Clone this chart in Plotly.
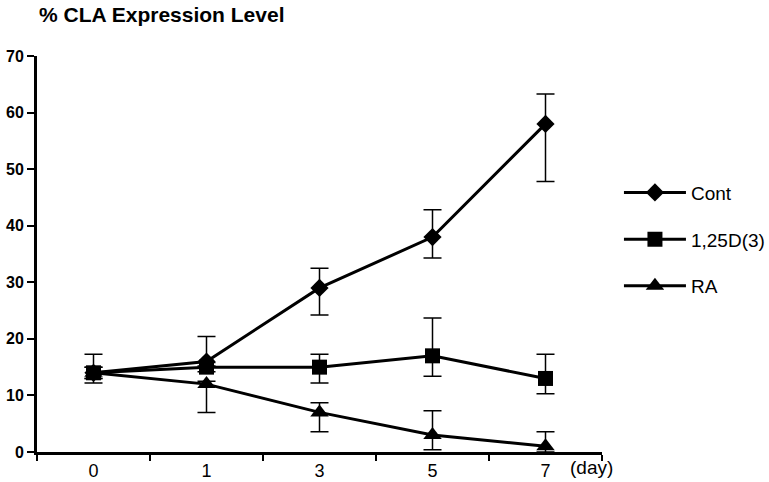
import plotly.graph_objects as go

days = ["0", "1", "3", "5", "7"]
pos = [0, 1, 2, 3, 4]

cont = [14, 16, 29, 38, 58]
cont_up = [3.3, 4.4, 3.5, 4.8, 5.3]
cont_dn = [1.8, 0.8, 4.8, 3.7, 10.2]

d3 = [14, 15, 15, 17, 13]
d3_up = [1.0, 0.8, 2.3, 6.7, 4.3]
d3_dn = [1.0, 0.8, 2.8, 3.6, 2.7]

ra = [14, 12, 7, 3, 1]
ra_up = [1.0, 0.5, 1.7, 4.3, 2.6]
ra_dn = [1.0, 5.0, 3.4, 2.6, 1.0]

yticks = [0, 10, 20, 30, 40, 50, 60, 70]

fig = go.Figure()
series = [
    ("Cont", cont, cont_up, cont_dn, "diamond", 14),
    ("1,25D(3)", d3, d3_up, d3_dn, "square", 15),
    ("RA", ra, ra_up, ra_dn, "triangle-up", 16),
]
for i, (name, ys, up, dn, sym, sz) in enumerate(series):
    fig.add_trace(go.Scatter(
        x=pos, y=ys, name=name, mode="lines+markers",
        line=dict(color="black", width=3),
        marker=dict(symbol=sym, size=sz, color="black"),
        error_y=dict(type="data", symmetric=False, array=up, arrayminus=dn,
                     color="black", thickness=1.5, width=9),
        legendgroup=f"g{i}", cliponaxis=False,
    ))

fig.update_layout(
    width=769, height=482,
    margin=dict(l=37, r=167, t=56, b=30, autoexpand=False),
    paper_bgcolor="white", plot_bgcolor="white",
    font=dict(family="Liberation Sans, Arial, sans-serif", color="black"),
    showlegend=True,
    legend=dict(x=1.03, y=0.703, xanchor="left", yanchor="top",
                font=dict(size=19, color="black"),
                itemwidth=62, tracegroupgap=19, bgcolor="rgba(0,0,0,0)"),
    xaxis=dict(range=[-0.5, 4.5], tickvals=pos, ticktext=days, ticks="",
               showline=True, linecolor="black", linewidth=3,
               showgrid=False, zeroline=False, automargin=False,
               tickfont=dict(size=18, family="Liberation Sans, Arial"),
               minor=dict(ticks="outside", tick0=-0.5, dtick=1, ticklen=6,
                          tickwidth=2, tickcolor="black", showgrid=False)),
    yaxis=dict(range=[0, 70], tickvals=yticks, ticks="outside", ticklen=7,
               tickwidth=2, tickcolor="black",
               showline=True, linecolor="black", linewidth=3,
               showgrid=False, zeroline=False, automargin=False,
               tickfont=dict(size=16, family="Liberation Sans, Arial", weight="bold")),
    annotations=[
        dict(text="<b>% CLA Expression Level</b>", xref="paper", yref="paper",
             x=0.0, y=1.0, xanchor="left", yanchor="middle", yshift=42,
             showarrow=False, font=dict(size=21, family="Liberation Sans, Arial")),
        dict(text="(day)", xref="x", yref="paper", x=4.41, y=0, yanchor="top",
             xanchor="center", yshift=-3, showarrow=False,
             font=dict(size=19, family="Liberation Sans, Arial")),
    ],
)

fig.write_html("out.html", config={"displayModeBar": False},
               post_script="document.body.style.margin='0';document.body.style.overflow='hidden';")
